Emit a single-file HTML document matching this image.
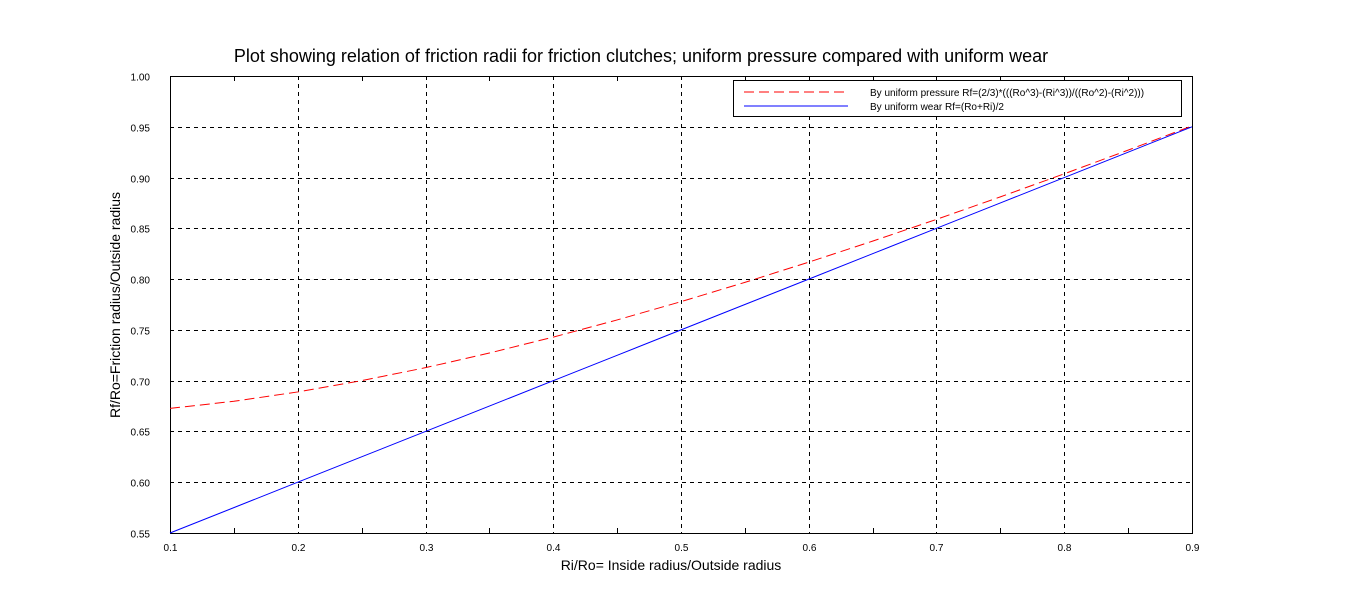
<!DOCTYPE html>
<html><head><meta charset="utf-8"><style>
body{margin:0;background:#fff;}
svg{display:block;font-family:"Liberation Sans",sans-serif;}
</style></head><body>
<svg id="chart" width="1364" height="610">
<rect x="0" y="0" width="1364" height="610" fill="#fff"/>
<text x="641" y="62" font-size="18" text-anchor="middle">Plot showing relation of friction radii for friction clutches; uniform pressure compared with uniform wear</text>
<g id="grid"></g><g id="axes"></g><g id="series"></g>
<text x="671" y="570" font-size="14" text-anchor="middle">Ri/Ro= Inside radius/Outside radius</text>
<text x="120" y="305" font-size="14" text-anchor="middle" transform="rotate(-90 120 305)">Rf/Ro=Friction radius/Outside radius</text>
<g>
<rect x="733.5" y="80.5" width="448" height="36" fill="#fff" stroke="#000"/>
<line x1="744" y1="92" x2="848" y2="92" stroke="#f00" stroke-dasharray="10,5"/>
<text x="870" y="96" font-size="10">By uniform pressure Rf=(2/3)*(((Ro^3)-(Ri^3))/((Ro^2)-(Ri^2)))</text>
<line x1="744" y1="106" x2="848" y2="106" stroke="#00f"/>
<text x="870" y="110" font-size="10">By uniform wear Rf=(Ro+Ri)/2</text>
</g>
</svg>
<script>
const xVals=[0.1,0.15,0.2,0.25,0.3,0.35,0.4,0.45,0.5,0.55,0.6,0.65,0.7,0.75,0.8,0.85,0.9];
const pressureVals=[0.6727,0.6797,0.6889,0.7,0.7128,0.7272,0.7429,0.7598,0.7778,0.7968,0.8167,0.8374,0.8588,0.8810,0.9037,0.9270,0.9509];
const wearVals=[0.55,0.575,0.6,0.625,0.65,0.675,0.7,0.725,0.75,0.775,0.8,0.825,0.85,0.875,0.9,0.925,0.95];
const xTicks=["0.1","0.2","0.3","0.4","0.5","0.6","0.7","0.8","0.9"];
const yTicks=["0.55","0.60","0.65","0.70","0.75","0.80","0.85","0.90","0.95","1.00"];
const L=170,R=1192,T=76,B=533,x0=0.1,x1=0.9,y0=0.55,y1=1.0;
const sx=v=>L+(v-x0)/(x1-x0)*(R-L), sy=v=>B-(v-y0)/(y1-y0)*(B-T);
const NS="http://www.w3.org/2000/svg";
function mk(tag,attrs,parent){const e=document.createElementNS(NS,tag);for(const k in attrs)e.setAttribute(k,attrs[k]);document.getElementById(parent).appendChild(e);return e;}
xTicks.forEach((t,i)=>{const v=parseFloat(t),x=Math.round(sx(v))+0.5;
 if(i>0&&i<xTicks.length-1){const g=mk('line',{x1:x,y1:T,x2:x,y2:B,stroke:'#000','stroke-dasharray':'4,4'},'grid');
 
 }
 const tx=mk('text',{x:x,y:B+18,'font-size':10,'text-anchor':'middle'},'axes');tx.textContent=t;
 
 
 if(i<xTicks.length-1){const xm=Math.round(sx(v+0.05))+0.5;
  mk('line',{x1:xm,y1:B,x2:xm,y2:B-5,stroke:'#000'},'axes');mk('line',{x1:xm,y1:T,x2:xm,y2:T+5,stroke:'#000'},'axes');}
});
yTicks.forEach((t,i)=>{const v=parseFloat(t),y=Math.round(sy(v))+0.5;
 if(i>0&&i<yTicks.length-1){const g=mk('line',{x1:L,y1:y,x2:R,y2:y,stroke:'#000','stroke-dasharray':'4,4'},'grid');
 
 }
 const tx=mk('text',{x:L-20,y:y+4,'font-size':10,'text-anchor':'end'},'axes');tx.textContent=t;
 
 
});
const fr=mk('rect',{x:L+0.5,y:T+0.5,width:R-L,height:B-T,fill:'none',stroke:'#000'},'axes');


const pp=mk('polyline',{points:xVals.map((x,i)=>sx(x)+','+sy(pressureVals[i])).join(' '),fill:'none',stroke:'#f00','stroke-dasharray':'10,5'},'series');


const wp=mk('polyline',{points:xVals.map((x,i)=>sx(x)+','+sy(wearVals[i])).join(' '),fill:'none',stroke:'#00f'},'series');


</script>
</body></html>
